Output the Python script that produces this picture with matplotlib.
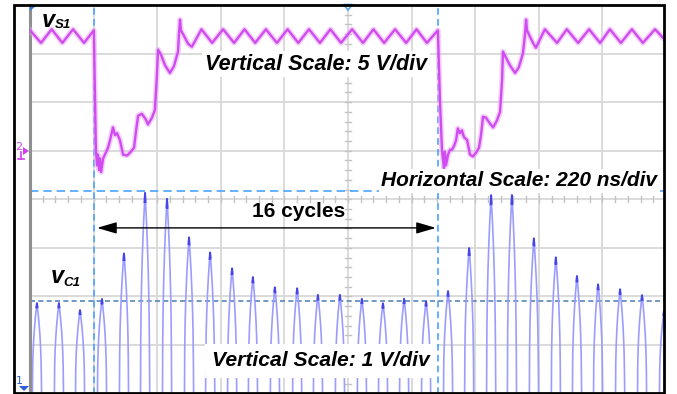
import numpy as np
import matplotlib
matplotlib.use("Agg")
import matplotlib.pyplot as plt
from matplotlib.patches import Rectangle, Polygon

# ---------------------------------------------------------------------------
# Oscilloscope capture: 220 ns/div horizontally, 10 divisions
# CH1 = vC1 (1 V/div, ground at bottom), CH2 = vS1 (5 V/div, ground at 5 div)
# ---------------------------------------------------------------------------
time_per_div_ns = 220.0
ch1_volts_per_div = 1.0
ch2_volts_per_div = 5.0
ch2_ground_div = 5.0

# vS1 switch-node voltage (ns, V)
vs1_t = [0, 38, 75, 112, 149, 187, 221,
         225, 228, 232, 235, 239, 242, 246, 253, 259, 270, 277, 287, 294, 301,
         311, 322, 336, 349, 360, 367, 374, 387, 401, 408, 422, 432, 439, 443,
         453, 467, 484, 498, 512, 515, 519, 522, 533, 547, 560,
         593, 630, 668, 706, 742, 779, 816, 854, 891, 928, 965, 1003, 1039,
         1076, 1114, 1152, 1188, 1225, 1263, 1301, 1337, 1373, 1411,
         1418, 1425, 1429, 1432, 1435, 1439, 1446, 1453, 1460, 1467, 1474, 1480,
         1487, 1494, 1501, 1512, 1522, 1532, 1543, 1553, 1560, 1567, 1577, 1591,
         1602, 1615, 1626, 1633, 1636, 1646, 1660, 1678, 1691, 1705, 1712, 1716,
         1719, 1730, 1740, 1750,
         1781, 1823, 1857, 1896, 1934, 1972, 2006, 2044, 2082, 2120, 2162, 2200]
vs1_v = [12.4, 11.1, 12.5, 11.1, 12.5, 11.1, 12.4,
         5.2, 0.1, -1.5, -0.4, -2.0, -0.8, -2.2, -0.8, -0.4, 0.3, 1.1, 2.4, 1.6, 1.8,
         1.1, -0.4, -0.5, -0.1, 0.3, 2.1, 3.6, 3.8, 3.2, 2.7, 3.4, 4.2, 7.8, 10.4,
         9.9, 8.8, 8.0, 8.7, 10.2, 11.9, 13.5, 12.4, 11.8, 11.0, 10.7,
         12.5, 11.1, 12.5, 11.1, 12.5, 11.1, 12.5, 11.1, 12.5, 11.1, 12.5, 11.1, 12.5,
         11.1, 12.5, 11.1, 12.5, 11.1, 12.5, 11.1, 12.5, 11.1, 12.4,
         5.2, 0.1, -1.0, -1.8, -0.1, -1.5, -0.4, 0.1, 0.1, 0.5, 1.1, 2.3,
         1.8, 2.1, 1.4, 1.1, -0.4, -0.6, -0.2, 0.3, 1.6, 3.5, 3.4, 2.8,
         2.4, 3.1, 4.0, 7.3, 10.2, 9.6, 8.8, 8.0, 8.6, 10.0, 11.9, 13.5,
         12.4, 11.7, 11.1, 10.6,
         12.5, 11.1, 12.5, 11.1, 12.5, 11.1, 12.5, 11.1, 12.5, 11.1, 12.5, 11.3]

# vC1 resonant-capacitor pulses: centre time (ns) and peak (V)
vc1_pulse_t = [24, 100, 173, 249, 325, 398, 474, 550, 623, 699, 771, 847, 924,
               996, 1072, 1148, 1221, 1294, 1370, 1446, 1519, 1595, 1667, 1743,
               1819, 1892, 1965, 2041, 2117, 2193]
vc1_pulse_v = [1.86, 1.86, 1.72, 1.95, 2.89, 4.13, 4.01, 3.22, 2.91, 2.58, 2.40,
               2.19, 2.17, 2.03, 2.03, 1.95, 1.86, 1.95, 1.90, 2.11, 3.00, 4.09,
               4.09, 3.20, 2.81, 2.42, 2.25, 2.15, 2.03, 1.70]
pulse_width_ns = 31.0

# cursors
cursor_t = [221, 1411]          # ns, 16 switching cycles apart
cursor_upper_div = 4.17
cursor_lower_div = 1.91

W, H = 677, 394
fig = plt.figure(figsize=(W / 100, H / 100), dpi=100)
fig.patch.set_facecolor("white")


def fx(x):
    return x / W


def fy(y):
    return 1 - y / H


FONT = "Liberation Sans"

# ---------------- graticule ----------------
x_left, x_right, y_top, y_bot = 30, 666, 5, 393.5
ax = fig.add_axes([fx(x_left), fy(y_bot), fx(x_right) - fx(x_left), fy(y_top) - fy(y_bot)])
ax.set_xlim(0, 10 * time_per_div_ns)
ax.set_ylim(0, 8)
ax.set_xticks([])
ax.set_yticks([])
for s in ("top", "right", "bottom"):
    ax.spines[s].set_visible(False)
ax.spines["left"].set_color("#8f8f8f")
ax.spines["left"].set_linewidth(2.2)

grid_c = "#d8d8d8"
for i in range(1, 10):
    ax.axvline(i * time_per_div_ns, color=grid_c, lw=1.3, zorder=0.5)
for j in range(1, 8):
    ax.axhline(j, color=grid_c, lw=1.3, zorder=0.5)

# centre-line minor ticks
px_per_div_x = (x_right - x_left) / 10
px_per_div_y = (y_bot - y_top) / 8
tick_h = 3.0 / px_per_div_y
tick_w = 3.0 / px_per_div_x * time_per_div_ns
for k in range(1, 50):
    xt = k * time_per_div_ns / 5
    ax.plot([xt, xt], [4 - tick_h, 4 + tick_h], color="#c4c4c4", lw=1.0, zorder=0.6)
for k in range(1, 40):
    yt = k / 5
    ax.plot([5 * time_per_div_ns - tick_w, 5 * time_per_div_ns + tick_w], [yt, yt],
            color="#c4c4c4", lw=1.0, zorder=0.6)

# cursors
for ct in cursor_t:
    ax.axvline(ct, color="#4aa3ff", lw=1.2, ls=(0, (4, 2.5)), zorder=1)
ax.axhline(cursor_upper_div, color="#4aa3ff", lw=1.2, ls=(0, (5, 3)), zorder=1)
ax.axhline(cursor_lower_div, color="#5686b8", lw=1.2, ls=(0, (3, 2)), zorder=1)

# ---------------- CH1 : vC1 ----------------
t = np.linspace(0, 10 * time_per_div_ns, 9000)


def pulse(tc, vp):
    u = np.abs(2 * (t - tc) / pulse_width_ns)
    return np.where(u < 1, vp * np.clip(1 - u, 0, 1) ** 0.4, 0.0)


vc1 = np.zeros_like(t)
for tc, vp in zip(vc1_pulse_t, vc1_pulse_v):
    vc1 = np.maximum(vc1, pulse(tc, vp))
ax.plot(t, vc1 / ch1_volts_per_div, color="#9c9cff", lw=1.2, zorder=2)
for tc, vp in zip(vc1_pulse_t, vc1_pulse_v):
    m = np.abs(t - tc) < pulse_width_ns * 0.06
    ax.plot(t[m], pulse(tc, vp)[m] / ch1_volts_per_div, color="#4545e8", lw=1.4, zorder=2.1)

# ---------------- CH2 : vS1 ----------------
ax2 = ax.twinx()
ax2.set_ylim(-ch2_ground_div * ch2_volts_per_div, (8 - ch2_ground_div) * ch2_volts_per_div)
ax2.set_axis_off()
ax2.plot(vs1_t, vs1_v, color="#eaa8f8", lw=4.0, alpha=0.55, zorder=2, solid_joinstyle="round")
ax2.plot(vs1_t, vs1_v, color="#d14cf0", lw=1.7, zorder=2.2, solid_joinstyle="round")

# arrow spanning the 16 cycles
arrow_y = 3.41
ax.annotate("", xy=(232, arrow_y), xytext=(1404, arrow_y),
            arrowprops=dict(arrowstyle="<|-|>,head_length=0.85,head_width=0.25",
                            color="black", lw=1.0, shrinkA=0, shrinkB=0,
                            mutation_scale=14), zorder=3)

# ---------------- text ----------------
box = dict(boxstyle="square,pad=0.12", fc="white", ec="none")
fig.text(fx(316), fy(64), "Vertical Scale: 5 V/div", fontsize=15.5, family=FONT,
         weight="bold", style="italic", ha="center", va="center", bbox=box, zorder=5)
fig.text(fx(657), fy(181), "Horizontal Scale: 220 ns/div", fontsize=15, family=FONT,
         weight="bold", style="italic", ha="right", va="center", bbox=box, zorder=5)
fig.text(fx(299), fy(212), "16 cycles", fontsize=15, family=FONT,
         weight="bold", ha="center", va="center", zorder=5)
fig.text(fx(321), fy(361), "Vertical Scale: 1 V/div", fontsize=15.2, family=FONT,
         weight="bold", style="italic", ha="center", va="center",
         bbox=dict(boxstyle="square,pad=0.35", fc="white", ec="none"), zorder=5)

fig.text(fx(42), fy(27), "v", fontsize=17, family=FONT, weight="bold",
         style="italic", ha="left", va="baseline", zorder=5)
fig.text(fx(55), fy(28.5), "S1", fontsize=9.5, family=FONT, weight="bold",
         style="italic", ha="left", va="baseline", zorder=5)
fig.text(fx(51), fy(283), "v", fontsize=17, family=FONT, weight="bold",
         style="italic", ha="left", va="baseline", zorder=5)
fig.text(fx(63), fy(286.5), "C1", fontsize=9.5, family=FONT, weight="bold",
         style="italic", ha="left", va="baseline", zorder=5)

# channel markers and trigger marks
fig.text(fx(15.5), fy(147), "2", fontsize=8, family="DejaVu Sans", color="#d040f0",
         ha="left", va="center", zorder=6)
fig.patches.append(Polygon([(fx(23), fy(147)), (fx(29), fy(151)), (fx(23), fy(155))],
                           closed=True, transform=fig.transFigure, fc="#d040f0",
                           ec="none", zorder=6))
fig.lines.append(plt.Line2D([fx(21), fx(21)], [fy(152), fy(159)],
                            transform=fig.transFigure, color="#d040f0", lw=1.2, zorder=6))
fig.lines.append(plt.Line2D([fx(18), fx(24)], [fy(159), fy(159)],
                            transform=fig.transFigure, color="#d040f0", lw=1.2, zorder=6))
fig.text(fx(16), fy(381), "1", fontsize=8, family="DejaVu Sans", color="#2a5fd8",
         ha="left", va="center", zorder=6)
fig.patches.append(Polygon([(fx(19), fy(386)), (fx(29), fy(386)), (fx(24), fy(391))],
                           closed=True, transform=fig.transFigure, fc="#2a5fd8",
                           ec="none", zorder=6))
fig.patches.append(Polygon([(fx(30), fy(5)), (fx(37), fy(5)), (fx(30), fy(11))],
                           closed=True, transform=fig.transFigure, fc="#2f7fd8",
                           ec="none", zorder=6))
fig.patches.append(Polygon([(fx(343.5), fy(4.5)), (fx(352.5), fy(4.5)), (fx(348), fy(10))],
                           closed=True, transform=fig.transFigure, fc="white",
                           ec="#5aa8f0", lw=1.2, zorder=6))

# outer frame
fig.patches.append(Rectangle((fx(13.5), fy(392.5)), fx(664) - fx(13.5), fy(5) - fy(392.5),
                             transform=fig.transFigure, fill=False, ec="black",
                             lw=2.0, zorder=10))

fig.savefig("out.png", dpi=100)
